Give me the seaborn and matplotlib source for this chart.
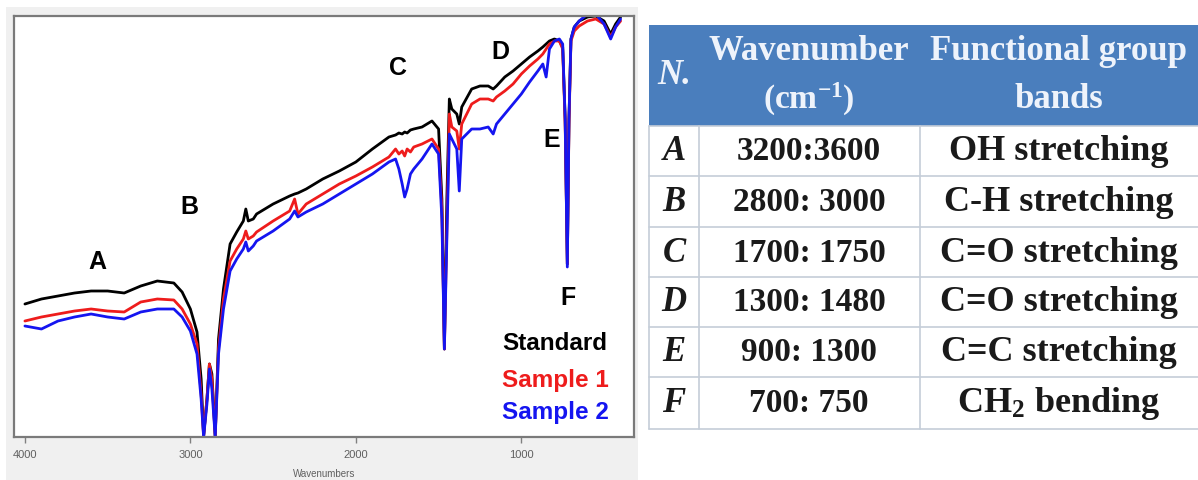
import matplotlib
matplotlib.use("Agg")
import numpy as np
import pandas as pd
import seaborn as sns
import matplotlib.pyplot as plt
from matplotlib.patches import Rectangle

# ---------------- data ----------------
wavenumber = [4000, 3900, 3800, 3700, 3600, 3500, 3400, 3300, 3200, 3100, 3050, 3000,
              2960, 2935, 2920, 2900, 2885, 2870, 2850, 2830, 2800, 2760, 2720, 2680,
              2665, 2650, 2620, 2600, 2500, 2400, 2370, 2350, 2300, 2200, 2100, 2000,
              1900, 1800, 1760, 1740, 1720, 1705, 1690, 1670, 1650, 1600, 1540, 1500,
              1480, 1465, 1450, 1435, 1420, 1390, 1375, 1360, 1300, 1250, 1200, 1170,
              1150, 1100, 1050, 1000, 950, 900, 870, 850, 830, 800, 770, 750,
              735, 722, 712, 700, 680, 650, 600, 550, 500, 460, 430, 400]

standard = [133, 138, 141, 144, 146, 146, 144, 151, 156, 154, 145, 128,
            105, 58, 1, 38, 73, 63, 1, 98, 148, 193, 205, 216,
            228, 216, 218, 223, 233, 241, 243, 244, 248, 258, 266, 275,
            288, 300, 302, 304, 303, 305, 304, 307, 308, 310, 316, 308,
            238, 88, 238, 338, 328, 323, 313, 330, 348, 351, 351, 348,
            351, 360, 366, 373, 380, 386, 390, 393, 396, 398, 396, 390,
            318, 173, 318, 398, 410, 416, 420, 421, 416, 403, 413, 420]

sample1 = [116, 120, 123, 126, 128, 126, 125, 135, 138, 137, 128, 113,
           93, 43, 1, 38, 73, 58, 1, 88, 138, 176, 188, 198,
           206, 198, 201, 205, 216, 226, 238, 223, 233, 243, 253, 261,
           270, 280, 288, 283, 286, 281, 288, 285, 290, 293, 298, 288,
           228, 88, 208, 323, 310, 306, 288, 313, 333, 338, 338, 336,
           340, 346, 353, 363, 371, 378, 383, 388, 393, 396, 396, 388,
           313, 173, 313, 396, 406, 411, 416, 418, 413, 400, 410, 416]

sample2 = [111, 108, 116, 120, 123, 120, 118, 125, 128, 128, 120, 106,
           83, 38, 0, 33, 68, 48, 0, 83, 128, 166, 178, 188,
           195, 186, 191, 196, 206, 218, 226, 220, 225, 233, 243, 253,
           263, 275, 278, 268, 253, 240, 248, 263, 268, 278, 293, 283,
           218, 88, 198, 303, 298, 288, 246, 298, 308, 308, 310, 303,
           313, 323, 333, 343, 355, 366, 373, 360, 388, 396, 398, 393,
           318, 170, 318, 398, 410, 416, 423, 423, 413, 398, 410, 418]

series_names = ["Standard", "Sample 1", "Sample 2"]
series_colors = ["#000000", "#ee1c1c", "#1515f0"]

peak_labels = ["A", "B", "C", "D", "E", "F"]
peak_label_x = [3560, 3006, 1747, 1127, 819, 717]
peak_label_y = [176, 231, 370, 386, 298, 140]

xtick_values = [4000, 3000, 2000, 1000]

table_letters = ["A", "B", "C", "D", "E", "F"]
table_ranges = ["3200:3600", "2800: 3000", "1700: 1750", "1300: 1480", "900: 1300", "700: 750"]
table_bands = ["OH stretching", "C-H stretching", "C=O stretching", "C=O stretching",
               "C=C stretching", r"$\mathregular{CH_2}$ bending"]

# ---------------- figure ----------------
sns.set_style("white")
plt.rcParams["font.family"] = ["Liberation Sans", "DejaVu Sans"]

W, H = 1198, 481
fig = plt.figure(figsize=(W / 100, H / 100), dpi=100)
fig.patch.set_facecolor("white")


def rect(x0, y0, x1, y1):
    return [x0 / W, 1 - y1 / H, (x1 - x0) / W, (y1 - y0) / H]


# light-grey panel behind the spectrum
fig.patches.append(Rectangle((6 / W, 0), (638 - 6) / W, 1 - 8 / H,
                             transform=fig.transFigure, facecolor="#f0f0f0",
                             edgecolor="none", zorder=-5))

ax = fig.add_axes(rect(14, 17, 634, 438))
ax.set_facecolor("white")

df = pd.concat([
    pd.DataFrame({"Wavenumber": wavenumber, "Transmittance": vals, "Series": name})
    for name, vals in zip(series_names, [standard, sample1, sample2])
], ignore_index=True)

sns.lineplot(data=df, x="Wavenumber", y="Transmittance", hue="Series",
             hue_order=series_names, palette=series_colors, estimator=None,
             errorbar=None, linewidth=2.0, legend=False, ax=ax)

ax.set_xlim(4066, 319)
ax.set_ylim(0, 421)
ax.set_xticks(xtick_values)
ax.set_xticklabels([str(v) for v in xtick_values])
ax.set_yticks([])
ax.tick_params(axis="x", direction="out", length=4, width=1, color="#808080",
               labelsize=8, labelcolor="#606060", pad=5, bottom=True)
ax.set_xlabel("Wavenumbers", fontsize=7, color="#606060", labelpad=6)
ax.set_ylabel("")
for s in ax.spines.values():
    s.set_color("#7a7a7a")
    s.set_linewidth(1.6)

for lab, lx, ly in zip(peak_labels, peak_label_x, peak_label_y):
    ax.text(lx, ly, lab, fontsize=18, fontweight="bold", color="black",
            ha="center", va="center")

legend_y = [95, 58, 25]
for name, col, ly in zip(series_names, series_colors, legend_y):
    ax.text(1116, ly, name, fontsize=17.5, fontweight="bold", color=col,
            ha="left", va="center")

# ---------------- table ----------------
tab = fig.add_axes([0, 0, 1, 1], facecolor="none")
tab.set_xlim(0, W)
tab.set_ylim(H, 0)
tab.axis("off")

serif = ["Liberation Serif", "DejaVu Serif"]
x_cols = [649, 699, 920, 1198]
y_rows = [26, 127, 177, 228, 278, 328, 378, 430]
header_blue = "#4a7ebd"
line_col = "#c5cdd8"
head_txt = "#eef3fb"

tab.add_patch(Rectangle((x_cols[0], y_rows[0]), x_cols[-1] - x_cols[0],
                        y_rows[1] - y_rows[0], facecolor=header_blue,
                        edgecolor="none"))
for y in y_rows[1:]:
    tab.plot([x_cols[0], x_cols[-1]], [y, y], color=line_col, lw=1.2)
for x in x_cols[:-1]:
    tab.plot([x, x], [y_rows[1], y_rows[-1]], color=line_col, lw=1.2)

hfs = 25
tab.text(674, 76, "N.", family=serif, style="italic", fontsize=hfs,
         color=head_txt, ha="center", va="center", fontweight="bold")
tab.text(809, 52, "Wavenumber", family=serif, fontsize=hfs, color=head_txt,
         ha="center", va="center", fontweight="bold")
tab.text(809, 99, r"$\mathregular{(cm^{-1})}$", family=serif, fontsize=hfs - 1,
         color=head_txt, ha="center", va="center", fontweight="bold")
tab.text(1059, 52, "Functional group", family=serif, fontsize=hfs,
         color=head_txt, ha="center", va="center", fontweight="bold")
tab.text(1059, 99, "bands", family=serif, fontsize=hfs, color=head_txt,
         ha="center", va="center", fontweight="bold")

for i, (let, rng, band) in enumerate(zip(table_letters, table_ranges, table_bands)):
    yc = (y_rows[i + 1] + y_rows[i + 2]) / 2
    tab.text(674, yc, let, family=serif, style="italic", fontweight="bold",
             fontsize=25, color="#1a1a1a", ha="center", va="center")
    tab.text(809, yc, rng, family=serif, fontweight="bold", fontsize=24,
             color="#1a1a1a", ha="center", va="center")
    tab.text(1059, yc, band, family=serif, fontweight="bold", fontsize=26,
             color="#1a1a1a", ha="center", va="center")

fig.savefig("out.png", dpi=100)
